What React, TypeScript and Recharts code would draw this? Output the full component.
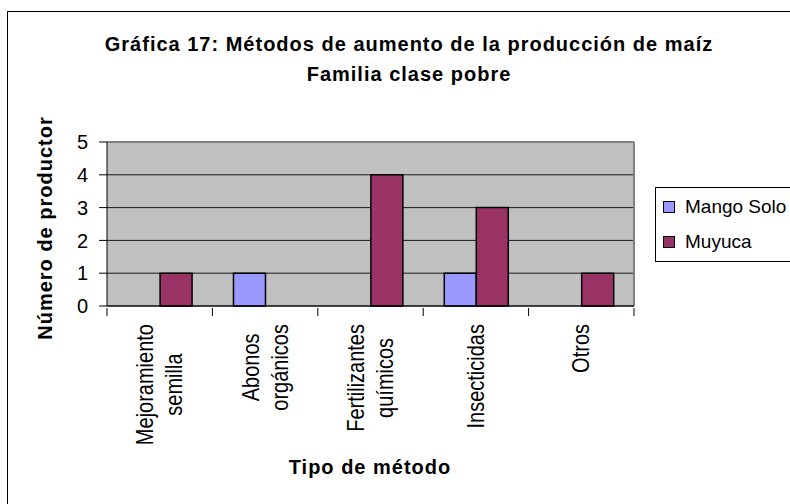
import React from 'react';
import { BarChart, Bar, XAxis, YAxis, CartesianGrid, ReferenceLine, Legend } from 'recharts';

const categories = [
  'Mejoramiento semilla',
  'Abonos orgánicos',
  'Fertilizantes químicos',
  'Insecticidas',
  'Otros',
];
const categoryLines = [
  ['Mejoramiento', 'semilla'],
  ['Abonos', 'orgánicos'],
  ['Fertilizantes', 'químicos'],
  ['Insecticidas'],
  ['Otros'],
];
const mangoSolo = [0, 1, 0, 1, 0];
const muyuca = [1, 0, 4, 3, 1];
const yTicks = [0, 1, 2, 3, 4, 5];

const data = categories.map((name, i) => ({
  name,
  'Mango Solo': mangoSolo[i],
  Muyuca: muyuca[i],
}));

const FONT = '"Liberation Sans", Arial, sans-serif';
const TICK_FONT_SIZE = 20;

let ctx: CanvasRenderingContext2D | null = null;
const measure = (s: string) => {
  if (!ctx) {
    ctx = document.createElement('canvas').getContext('2d');
  }
  if (!ctx) return s.length * 10;
  ctx.font = `${TICK_FONT_SIZE}px ${FONT}`;
  return ctx.measureText(s).width;
};

// rotated category labels, lines centred on each other, block hanging from the axis
const CategoryTick = (props: any) => {
  const { x, y, payload, index } = props;
  const lines = categoryLines[index] || [String(payload.value)];
  const half = payload.offset || 0;
  const maxW = Math.max(...lines.map(measure));
  const cy = y + 10 + maxW / 2;
  const pitch = 29;
  const startX = x - ((lines.length - 1) * pitch) / 2;
  return (
    <g>
      <line x1={x - half} y1={y - 6} x2={x - half} y2={y + 2} stroke="#000" />
      {index === categories.length - 1 && (
        <line x1={x + half} y1={y - 6} x2={x + half} y2={y + 2} stroke="#000" />
      )}
      {lines.map((l, i) => (
        <text
          key={i}
          x={0}
          y={0}
          transform={`translate(${startX + i * pitch},${cy}) scale(1.2,1) rotate(-90)`}
          textAnchor="middle"
          dominantBaseline="central"
          fontSize={TICK_FONT_SIZE}
          fontFamily={FONT}
          fill="#000"
        >
          {l}
        </text>
      ))}
    </g>
  );
};

const LegendBox = () => (
  <div
    style={{
      width: 150,
      height: 75,
      border: '1px solid #000',
      background: '#fff',
      boxSizing: 'border-box',
      fontFamily: FONT,
      fontSize: 19,
      paddingTop: 4,
    }}
  >
    {[
      { label: 'Mango Solo', color: '#9999FF' },
      { label: 'Muyuca', color: '#993366' },
    ].map((it) => (
      <div key={it.label} style={{ display: 'flex', alignItems: 'center', height: 30, marginBottom: 5 }}>
        <span
          style={{
            display: 'inline-block',
            width: 10,
            height: 10,
            border: '1px solid #000',
            background: it.color,
            marginLeft: 7,
            marginRight: 10,
          }}
        />
        <span style={{ whiteSpace: 'nowrap' }}>{it.label}</span>
      </div>
    ))}
  </div>
);

export default function App() {
  return (
    <div
      style={{
        position: 'absolute',
        left: 0,
        top: 0,
        width: 790,
        height: 504,
        overflow: 'hidden',
        background: '#fff',
        fontFamily: FONT,
      }}
    >
      <div
        style={{
          position: 'absolute',
          left: 7,
          top: 11,
          width: 900,
          height: 600,
          border: '1px solid #000',
        }}
      />
      <div
        style={{
          position: 'absolute',
          left: 0,
          width: 818,
          top: 29,
          textAlign: 'center',
          fontWeight: 'bold',
          fontSize: 20,
          letterSpacing: 1,
          lineHeight: '30px',
        }}
      >
        <div>Gráfica 17: Métodos de aumento de la producción de maíz</div>
        <div>Familia clase pobre</div>
      </div>
      <div
        style={{
          position: 'absolute',
          left: 45,
          top: 228,
          transform: 'translate(-50%, -50%) rotate(-90deg)',
          fontWeight: 'bold',
          fontSize: 20,
          letterSpacing: 1,
          whiteSpace: 'nowrap',
        }}
      >
        Número de productor
      </div>
      <div
        style={{
          position: 'absolute',
          left: 370,
          top: 467,
          transform: 'translate(-50%, -50%)',
          fontWeight: 'bold',
          fontSize: 20,
          letterSpacing: 1,
          whiteSpace: 'nowrap',
        }}
      >
        Tipo de método
      </div>
      <div style={{ position: 'absolute', left: 0, top: 0 }}>
        <BarChart
          width={790}
          height={504}
          data={data}
          margin={{ top: 142, right: 156, left: 77, bottom: 48 }}
          barCategoryGap="20%"
          barGap={0}
        >
          <CartesianGrid vertical={false} stroke="#1a1a1a" fill="#C0C0C0" fillOpacity={1} />
          <XAxis
            dataKey="name"
            interval={0}
            height={150}
            axisLine={{ stroke: '#000' }}
            tickLine={false}
            tick={<CategoryTick />}
          />
          <YAxis
            width={30}
            domain={[0, 5]}
            ticks={yTicks}
            interval={0}
            axisLine={{ stroke: '#000' }}
            tickLine={{ stroke: '#000' }}
            tickSize={8}
            tickMargin={11}
            tick={{ fill: '#000', fontSize: 20, fontFamily: FONT }}
          />
          <ReferenceLine y={5} stroke="#808080" strokeWidth={2} />
          <ReferenceLine x={categories[categories.length - 1]} position="end" stroke="#808080" strokeWidth={2} />
          <Legend
            layout="vertical"
            verticalAlign="middle"
            align="center"
            content={<LegendBox />}
            wrapperStyle={{ position: 'absolute', left: 655, top: 187, width: 150 }}
          />
          <Bar dataKey="Mango Solo" fill="#9999FF" stroke="#000" strokeWidth={1.5} isAnimationActive={false} />
          <Bar dataKey="Muyuca" fill="#993366" stroke="#000" strokeWidth={1.5} isAnimationActive={false} />
        </BarChart>
      </div>
    </div>
  );
}
